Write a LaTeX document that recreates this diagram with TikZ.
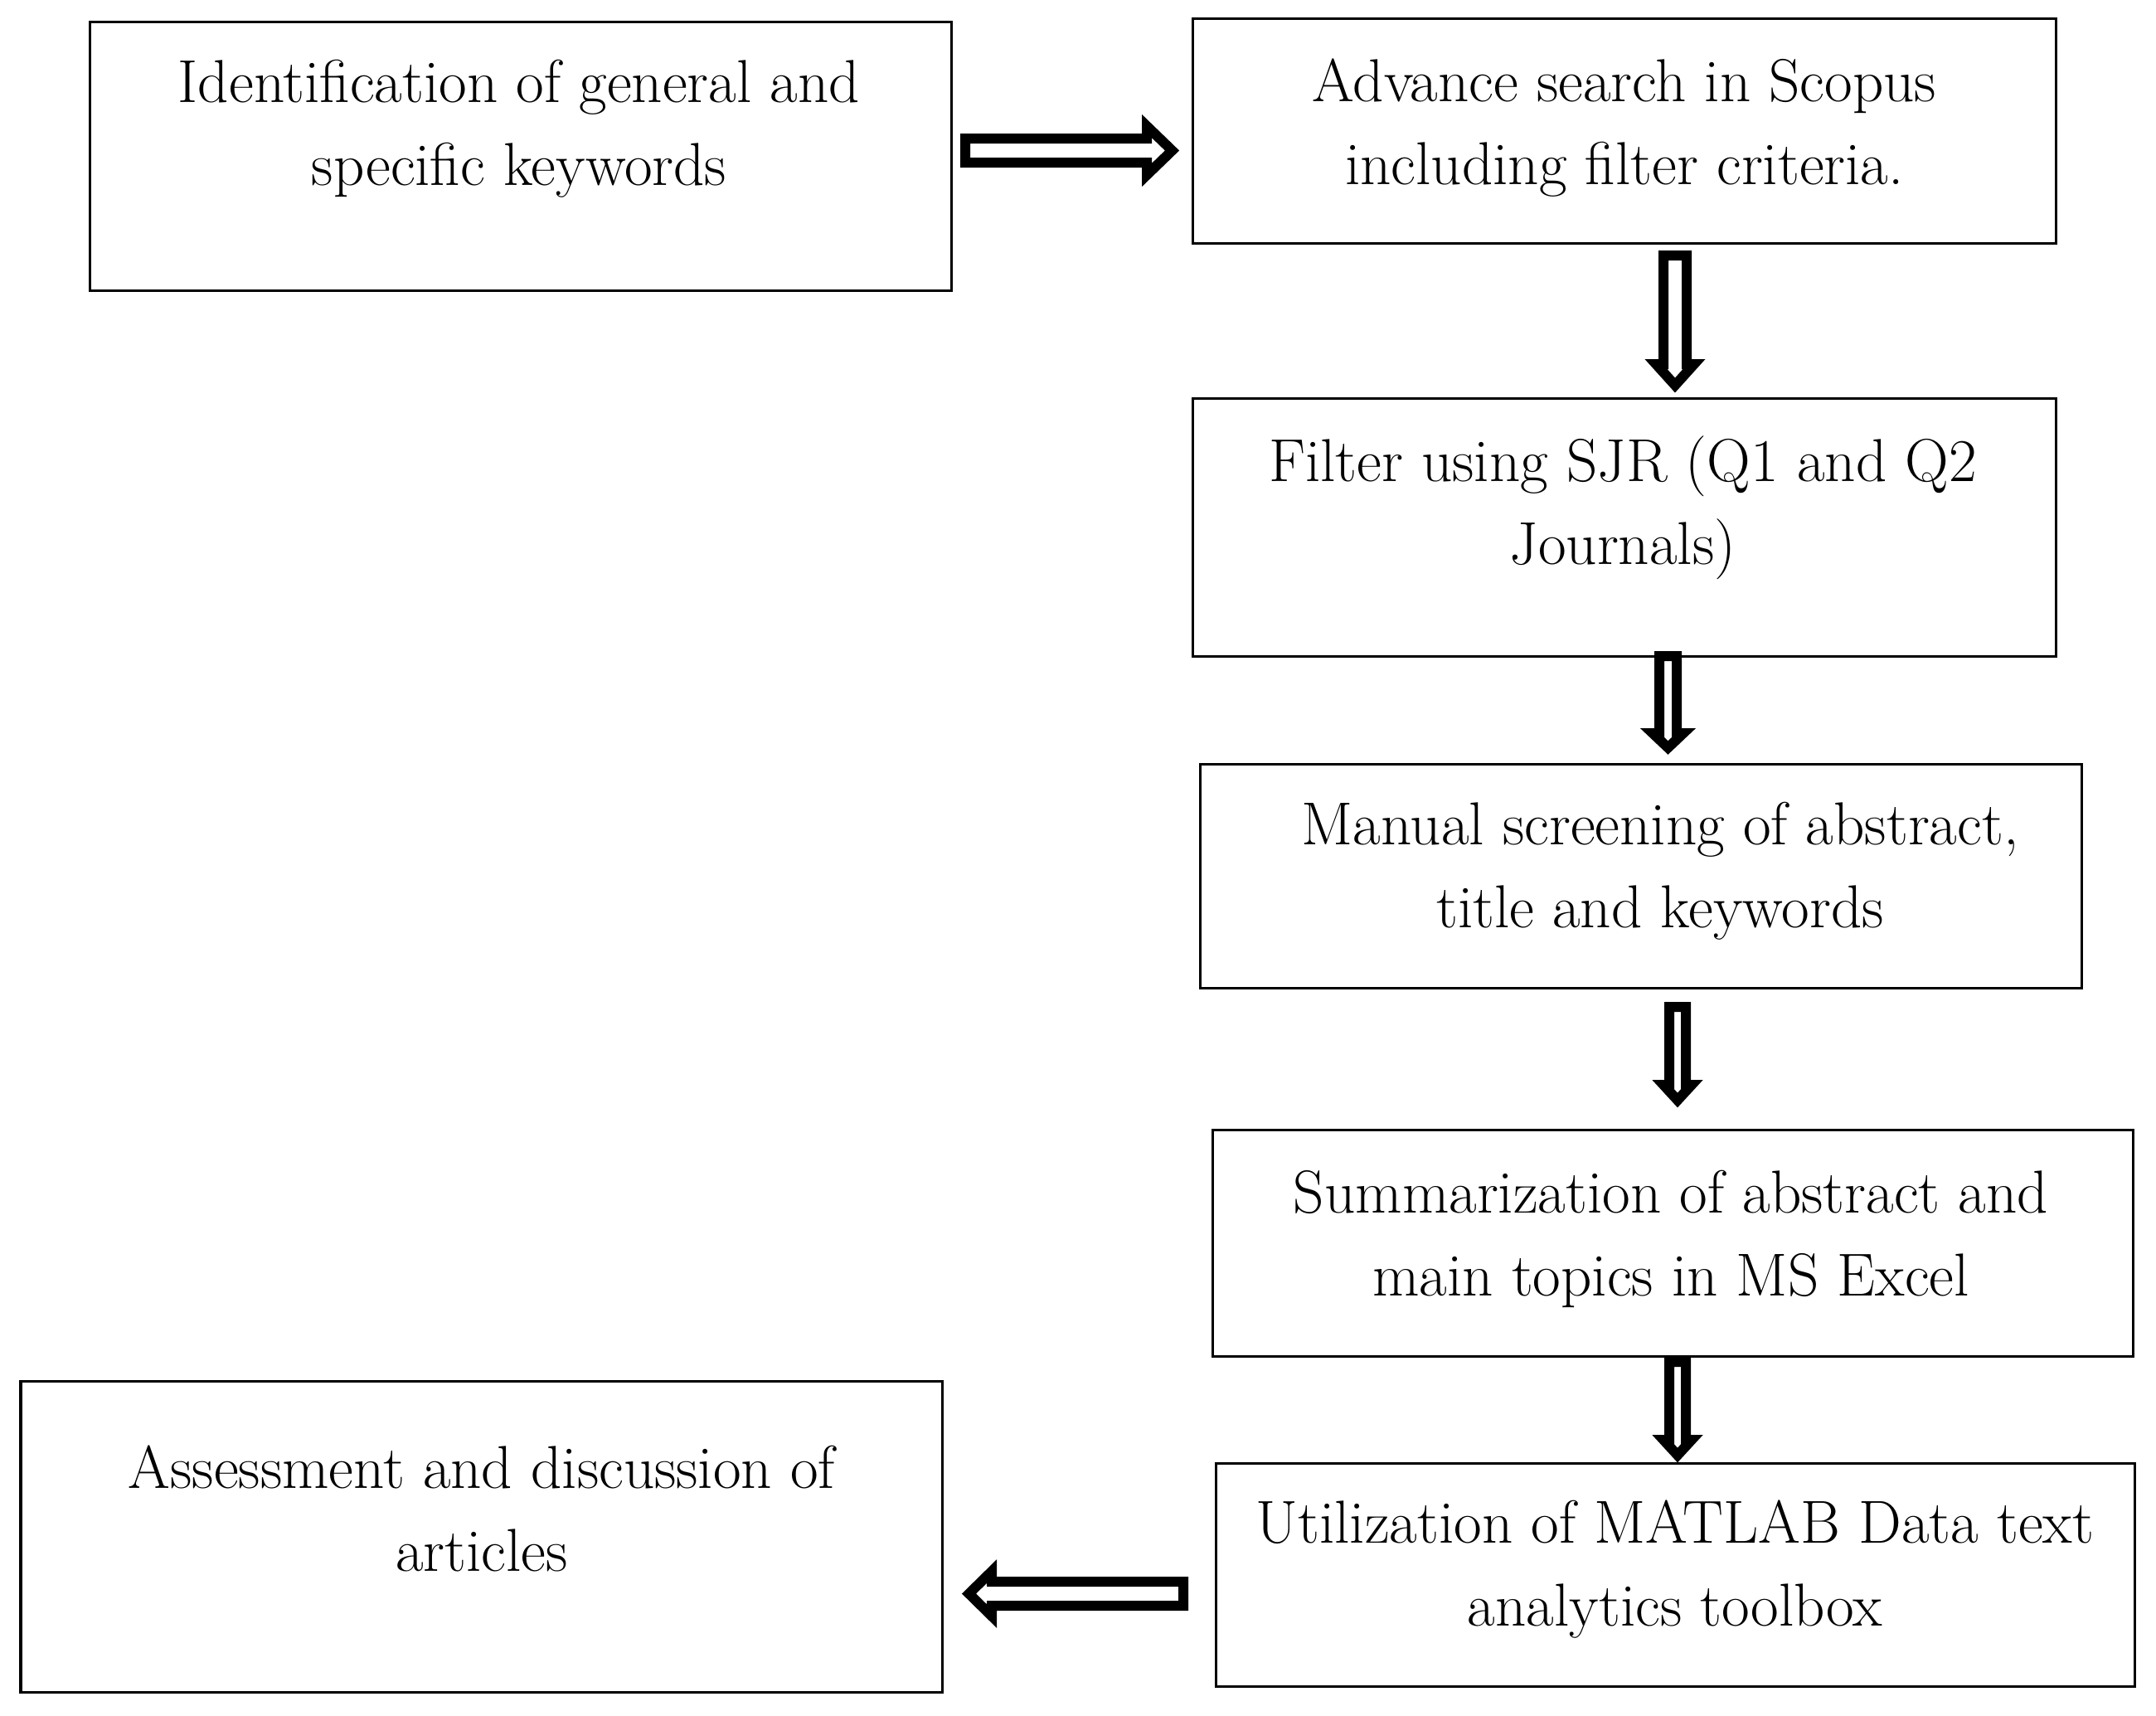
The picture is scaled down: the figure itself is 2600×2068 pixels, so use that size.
\documentclass[tikz,border=0pt]{standalone}
\usetikzlibrary{fit}
\newcommand\blockarrow[6]{%
  \begin{scope}[shift={(#1)}, rotate=#2]
    \path[blockarrowline] (6,{#4-6}) -- ({#3-#6+6},{#4-6}) -- ({#3-#6+6},{#5-14.5})
      -- ({#3-8.5},0) -- ({#3-#6+6},{-(#5-14.5)}) -- ({#3-#6+6},{-(#4-6)})
      -- (6,{-(#4-6)}) -- cycle;
  \end{scope}}
\begin{document}
\begin{tikzpicture}[x=0.01cm, y=-0.01cm,
  box/.style={draw, line width=0.03cm, inner sep=0pt},
  txt/.style={align=center, font=\fontsize{20.8}{28.5}\selectfont, inner sep=0pt},
  blockarrowline/.style={draw, fill=white, line width=0.12cm, line join=miter}]
\useasboundingbox (0,0) rectangle (2600,2068);
\fill[white] (0,0) rectangle (2600,2068);

% boxes
\node[box, fit={(108,26) (1147,350)}] (b1) {};
\node[box, fit={(1438,22) (2479,293)}] (b2) {};
\node[box, fit={(1438,480) (2479,791)}] (b3) {};
\node[box, fit={(1447,921) (2510,1191)}] (b4) {};
\node[box, fit={(1462,1362) (2572,1635)}] (b5) {};
\node[box, fit={(1466,1764) (2574,2033)}] (b6) {};
\node[box, fit={(25,1665) (1136,2040)}] (b7) {};

% texts
\node[txt] (t1) at (626,155.5) {Identification of general and\\specific keywords};
\node[txt] (t2) at (1959,154) {Advance search in Scopus\\including filter criteria.};
\node[txt] (t3) at (1957,612) {Filter using SJR (Q1 and Q2\\Journals)};
\node[txt] (t4) at (2002,1050) {Manual screening of abstract,\\title and keywords};
\node[txt] (t5) at (2015,1494) {Summarization of abstract and\\main topics in MS Excel};
\node[txt] (t6) at (2020,1892) {Utilization of MATLAB Data text\\analytics toolbox};
\node[txt] (t7) at (581,1819) {Assessment and discussion of\\articles};

% block arrows (tail coordinates)
\coordinate (a12) at (1158,181.5);
\coordinate (a23) at (2020,302);
\coordinate (a34) at (2011.5,785);
\coordinate (a45) at (2023,1208);
\coordinate (a56) at (2023,1636);
\coordinate (a67) at (1433,1921.5);

\blockarrow{a12}{0}{264}{20.5}{44}{45}
\blockarrow{a23}{-90}{171}{20}{37.5}{40}
\blockarrow{a34}{-90}{125}{16.5}{33}{32}
\blockarrow{a45}{-90}{127}{16}{31.5}{33}
\blockarrow{a56}{-90}{127}{16}{31.5}{33}
\blockarrow{a67}{180}{273}{20.5}{41.5}{42}
\end{tikzpicture}
\end{document}
